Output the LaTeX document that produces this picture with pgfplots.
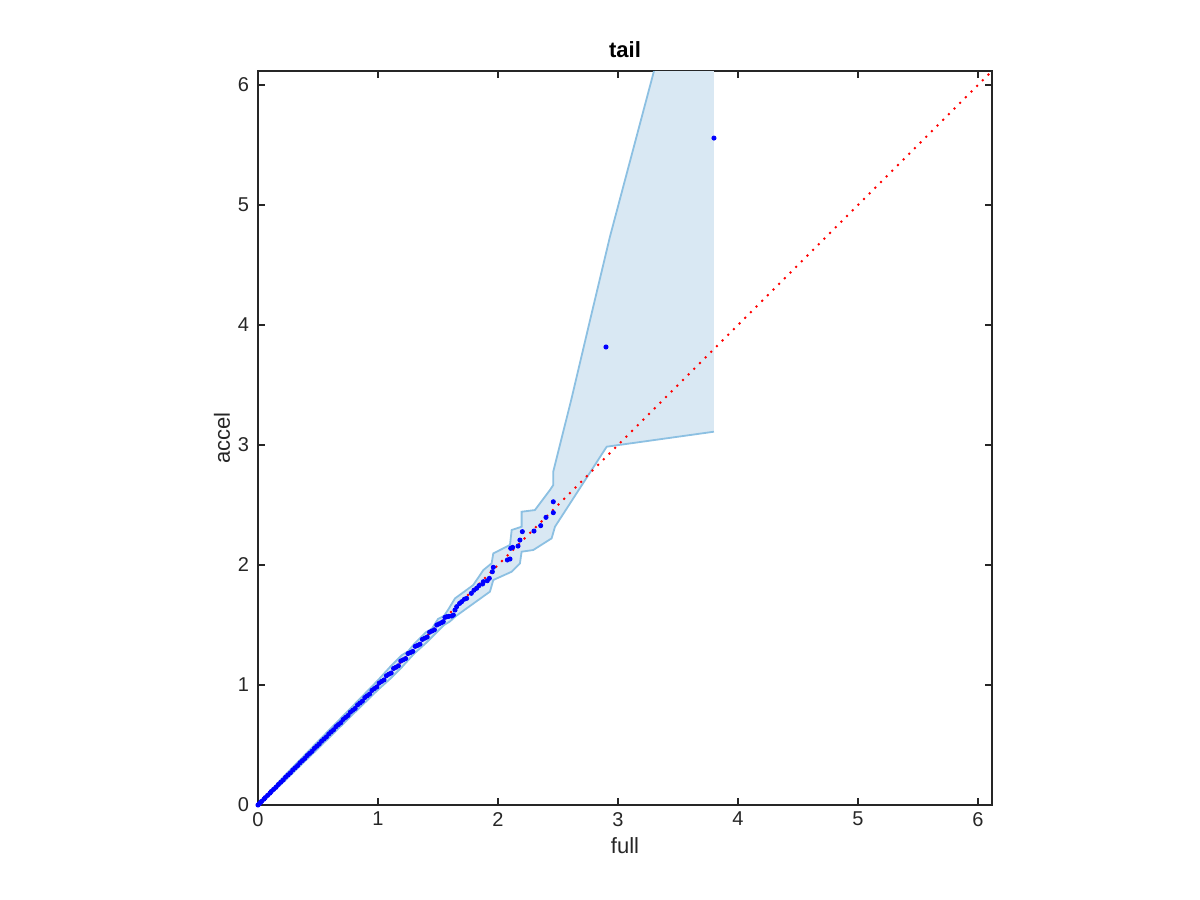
\documentclass[border=0pt]{standalone}
\usepackage{pgfplots}
\pgfplotsset{compat=1.18}
\usepgfplotslibrary{fillbetween}
\usepackage{fontspec}
\setmainfont{Liberation Sans}

\definecolor{axgray}{RGB}{38,38,38}
\definecolor{bandfill}{RGB}{217,232,243}
\definecolor{bandedge}{RGB}{140,192,226}

\pgfplotstableread{
x y
0 0
0.2 0.222
0.5 0.53
0.8 0.835
1.0 1.04
1.1 1.15
1.2 1.25
1.25 1.28
1.3 1.34
1.4 1.44
1.45 1.47
1.5 1.55
1.55 1.575
1.58 1.62
1.642 1.722
1.794 1.833
1.878 1.958
1.947 2.014
1.961 2.097
2.1 2.167
2.114 2.292
2.197 2.319
2.197 2.444
2.308 2.458
2.433 2.625
2.461 2.667
2.461 2.78
2.61 3.375
2.767 4.04
2.933 4.736
3.3 6.117
3.8 8.0
}\bandup

\pgfplotstableread{
x y
0 0
0.2 0.18
0.5 0.47
0.8 0.765
1.0 0.96
1.1 1.05
1.2 1.15
1.3 1.26
1.4 1.35
1.5 1.45
1.55 1.5
1.6 1.53
1.642 1.569
1.933 1.778
1.961 1.875
2.114 1.944
2.183 2.014
2.197 2.111
2.294 2.125
2.447 2.222
2.475 2.319
2.906 2.986
3.8 3.111
}\bandlo

\pgfplotstableread{
x y
0 0
0.01 0.01
0.02 0.021
0.03 0.03
0.05 0.049
0.06 0.061
0.08 0.08
0.1 0.099
0.11 0.112
0.13 0.13
0.15 0.148
0.17 0.171
0.19 0.19
0.21 0.208
0.23 0.232
0.25 0.25
0.27 0.268
0.29 0.292
0.31 0.31
0.33 0.328
0.35 0.352
0.37 0.37
0.39 0.388
0.41 0.412
0.43 0.43
0.45 0.447
0.47 0.472
0.49 0.49
0.51 0.508
0.53 0.532
0.55 0.55
0.57 0.567
0.59 0.592
0.61 0.61
0.63 0.627
0.65 0.653
0.67 0.67
0.69 0.686
0.71 0.713
0.73 0.73
0.75 0.746
0.77 0.774
0.79 0.79
0.81 0.805
0.83 0.834
0.85 0.85
0.87 0.866
0.89 0.895
0.91 0.91
0.93 0.925
0.95 0.955
0.97 0.97
0.99 0.984
1.01 1.016
1.03 1.03
1.05 1.042
1.07 1.077
1.09 1.09
1.11 1.1
1.13 1.138
1.15 1.148
1.17 1.16
1.19 1.2
1.21 1.21
1.23 1.22
1.25 1.262
1.27 1.27
1.29 1.28
1.31 1.322
1.33 1.33
1.35 1.34
1.37 1.38
1.39 1.39
1.41 1.4
1.43 1.44
1.45 1.45
1.47 1.46
1.49 1.5
1.51 1.51
1.53 1.52
1.544 1.528
1.558 1.564
1.572 1.569
1.59 1.572
1.614 1.575
1.628 1.583
1.642 1.625
1.656 1.653
1.68 1.68
1.697 1.694
1.72 1.715
1.739 1.722
1.778 1.764
1.8 1.79
1.822 1.806
1.842 1.828
1.872 1.842
1.878 1.861
1.911 1.869
1.928 1.889
1.953 1.944
1.961 1.981
2.078 2.042
2.1 2.05
2.106 2.139
2.122 2.147
2.167 2.158
2.183 2.208
2.203 2.278
2.3 2.283
2.356 2.328
2.4 2.397
2.461 2.436
2.461 2.527
2.9 3.817
3.8 5.558
}\pts

\begin{document}
\begin{tikzpicture}
\begin{axis}[
    set layers,
    scale only axis,
    width=367pt, height=367pt,
    xmin=0, xmax=6.117, ymin=0, ymax=6.117,
    xtick={0,1,...,6}, ytick={0,1,...,6},
    tick align=inside,
    major tick length=3.5pt,
    axis line style={axgray, line width=0.6pt},
    every tick/.style={axgray, line width=0.6pt},
    tick label style={font=\fontsize{10}{12}\selectfont, text=axgray},
    /pgf/number format/assume math mode=true,
    xticklabel style={yshift=0pt},
    yticklabel style={xshift=-1pt},
    xlabel={full}, ylabel={accel},
    label style={font=\fontsize{11}{13}\selectfont, text=axgray},
    xlabel style={yshift=1pt},
    ylabel style={yshift=-3pt},
    title={\textbf{tail}},
    title style={font=\fontsize{11}{13}\selectfont, yshift=-3pt},
]
\addplot[name path=up, bandedge, line width=0.9pt] table {\bandup};
\addplot[name path=lo, bandedge, line width=0.9pt] table {\bandlo};
\addplot[bandfill] fill between[of=up and lo];
\addplot[only marks, mark=*, mark size=1.05pt, blue, mark options={draw=blue, fill=blue}] table {\pts};
\addplot[red, line width=1pt, dash pattern=on 1pt off 3pt] coordinates {(0,0) (6.2,6.2)};
\end{axis}
\pgfresetboundingbox
\path (-129pt,-47.5pt) rectangle (471pt,402.5pt);
\end{tikzpicture}
\end{document}
